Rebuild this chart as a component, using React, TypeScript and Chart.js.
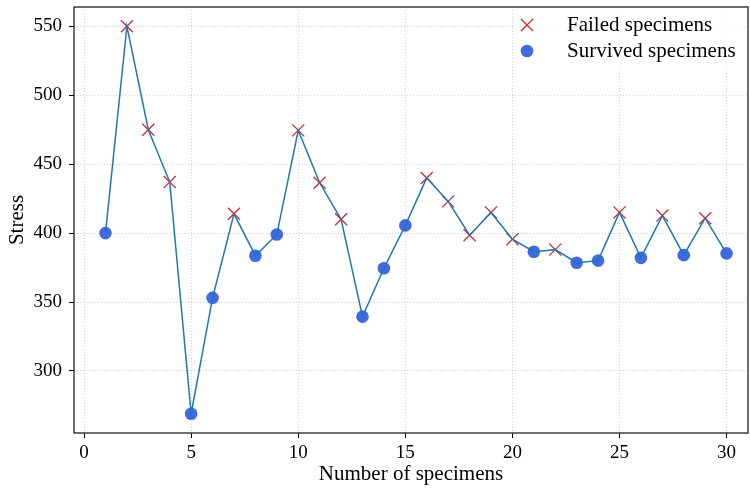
import React, { useEffect, useRef } from "react";
import { Chart, registerables } from "chart.js";

Chart.register(...registerables);

const specimens = [1, 2, 3, 4, 5, 6, 7, 8, 9, 10, 11, 12, 13, 14, 15, 16, 17, 18, 19, 20, 21, 22, 23, 24, 25, 26, 27, 28, 29, 30];
const stress = [400, 550, 475, 437, 269, 353, 414, 383.6, 399, 474.5, 436.5, 410, 339.4, 374.5, 405.6, 440, 423, 398.5, 415, 395.6, 386.5, 388, 378.5, 380, 415, 382, 412.7, 384, 410.8, 385.3];
const failedFlags = [false, true, true, true, false, false, true, false, false, true, true, true, false, false, false, true, true, true, true, true, false, true, false, false, true, false, true, false, true, false];
const xTicks = [0, 5, 10, 15, 20, 25, 30];
const yTicks = [300, 350, 400, 450, 500, 550];
const legendLabels = ["Failed specimens", "Survived specimens"];
const xTitle = "Number of specimens";
const yTitle = "Stress";

const FONT = "'Liberation Serif', 'DejaVu Serif', serif";
const LINE_COLOR = "#1f77b4";
const FAIL_COLOR = "#d62728";
const SURV_COLOR = "#4169e1";

export default function App() {
  const ref = useRef<HTMLCanvasElement | null>(null);

  useEffect(() => {
    const canvas = ref.current;
    if (!canvas) return;

    const allPts = specimens.map((x, i) => ({ x, y: stress[i] }));
    const failedPts = allPts.filter((_, i) => failedFlags[i]);
    const survivedPts = allPts.filter((_, i) => !failedFlags[i]);

    const framePlugin = {
      id: "frame",
      afterDatasetsDraw(chart: any) {
        const { ctx, chartArea } = chart;
        ctx.save();
        ctx.strokeStyle = "#222";
        ctx.lineWidth = 1.3;
        ctx.strokeRect(chartArea.left, chartArea.top, chartArea.right - chartArea.left, chartArea.bottom - chartArea.top);
        ctx.restore();
      },
    };

    const legendPlugin = {
      id: "innerLegend",
      afterDraw(chart: any) {
        const { ctx, chartArea } = chart;
        ctx.save();
        const boxRight = chartArea.right - 2;
        const boxLeft = boxRight - 233;
        const boxTop = chartArea.top + 3;
        ctx.fillStyle = "rgba(255,255,255,0.85)";
        ctx.fillRect(boxLeft, boxTop, boxRight - boxLeft, 58);
        const mx = boxLeft + 14;
        const rows = [boxTop + 15, boxTop + 41];
        ctx.strokeStyle = FAIL_COLOR;
        ctx.lineWidth = 1.3;
        const d = 6;
        ctx.beginPath();
        ctx.moveTo(mx - d, rows[0] - d);
        ctx.lineTo(mx + d, rows[0] + d);
        ctx.moveTo(mx - d, rows[0] + d);
        ctx.lineTo(mx + d, rows[0] - d);
        ctx.stroke();
        ctx.fillStyle = SURV_COLOR;
        ctx.beginPath();
        ctx.arc(mx, rows[1], 6.3, 0, Math.PI * 2);
        ctx.fill();
        ctx.fillStyle = "#000";
        ctx.font = `21px ${FONT}`;
        ctx.textBaseline = "middle";
        ctx.textAlign = "left";
        ctx.fillText(legendLabels[0], mx + 40, rows[0]);
        ctx.fillText(legendLabels[1], mx + 40, rows[1]);
        ctx.restore();
      },
    };

    const chart = new Chart(canvas, {
      type: "scatter",
      data: {
        datasets: [
          {
            type: "line",
            label: "line",
            data: allPts,
            borderColor: LINE_COLOR,
            borderWidth: 1.5,
            pointRadius: 0,
            fill: false,
            tension: 0,
            order: 0,
          } as any,
          {
            label: legendLabels[0],
            data: failedPts,
            pointStyle: "crossRot",
            pointRadius: 8.5,
            borderColor: FAIL_COLOR,
            backgroundColor: FAIL_COLOR,
            borderWidth: 1.3,
            order: 1,
          },
          {
            label: legendLabels[1],
            data: survivedPts,
            pointStyle: "circle",
            pointRadius: 6.3,
            borderWidth: 0,
            borderColor: SURV_COLOR,
            backgroundColor: SURV_COLOR,
            order: 2,
          },
        ],
      },
      options: {
        responsive: false,
        animation: false,
        layout: { autoPadding: false, padding: { top: 7, right: 2, left: 0, bottom: 0 } },
        plugins: {
          legend: { display: false },
          tooltip: { enabled: false },
        },
        scales: {
          x: {
            type: "linear",
            min: -0.47,
            max: 31.0,
            afterBuildTicks: (s: any) => {
              s.ticks = xTicks.map((v) => ({ value: v }));
            },
            afterFit: (s: any) => {
              s.height = 55;
              s.paddingLeft = 0;
              s.paddingRight = 0;
            },
            ticks: {
              autoSkip: false,
              maxRotation: 0,
              padding: 4,
              color: "#000",
              font: { family: FONT, size: 19 },
              callback: (v: any) => String(v),
            },
            grid: {
              color: "#c4c4c4",
              lineWidth: 0.8,
              tickColor: "#000",
              tickLength: 5,
              tickWidth: 1,
              tickBorderDash: [],
            },
            border: { display: false, dash: [1, 2] },
            title: {
              display: true,
              text: xTitle,
              color: "#000",
              font: { family: FONT, size: 21 },
              padding: { top: 0, bottom: 1 },
            },
          },
          y: {
            type: "linear",
            min: 255,
            max: 564,
            afterBuildTicks: (s: any) => {
              s.ticks = yTicks.map((v) => ({ value: v }));
            },
            afterFit: (s: any) => {
              s.width = 74;
              s.paddingTop = 0;
              s.paddingBottom = 0;
            },
            ticks: {
              autoSkip: false,
              padding: 7,
              color: "#000",
              font: { family: FONT, size: 19 },
              callback: (v: any) => String(v),
            },
            grid: {
              color: "#c4c4c4",
              lineWidth: 0.8,
              tickColor: "#000",
              tickLength: 5,
              tickWidth: 1,
              tickBorderDash: [],
            },
            border: { display: false, dash: [1, 2] },
            title: {
              display: true,
              text: yTitle,
              color: "#000",
              font: { family: FONT, size: 21 },
              padding: { top: 5, bottom: 0 },
            },
          },
        },
      },
      plugins: [framePlugin, legendPlugin],
    });

    return () => chart.destroy();
  }, []);

  return (
    <div style={{ position: "absolute", left: 0, top: 0, width: 750, height: 488 }}>
      <canvas ref={ref} width={750} height={488} />
    </div>
  );
}
